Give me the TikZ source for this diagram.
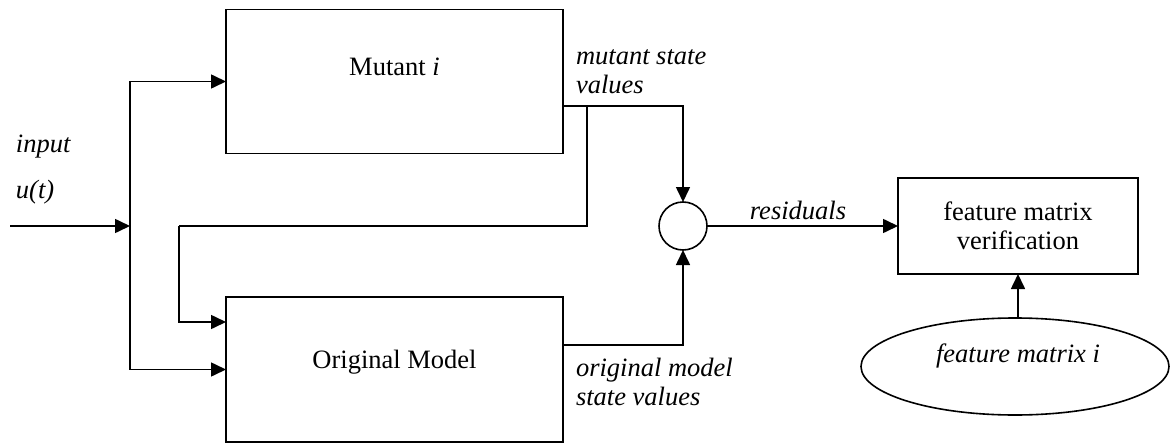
\documentclass[tikz,border=0pt]{standalone}
\usepackage{fontspec}
\setmainfont{Liberation Serif}
\usetikzlibrary{arrows.meta,shapes.geometric}
\begin{document}
\begin{tikzpicture}[x=1pt,y=-1pt, line width=1.6pt,
  every node/.style={font=\fontsize{26.5}{29}\selectfont, inner sep=0pt, outer sep=0pt},
  itext/.style={font=\fontsize{26.5}{29}\selectfont\itshape},
  block/.style={draw, rectangle, line width=1.6pt},
  arr/.style={-{Triangle[length=15pt,width=14pt]}},
  lbl/.style={anchor=base west, align=left, itext}]
\useasboundingbox (0,0) rectangle (1170,444);
% blocks
\node[block, minimum width=337pt, minimum height=144pt] (mut) at (394.5,81.5) {};
\node[block, minimum width=337pt, minimum height=145pt] (orig) at (394.5,369.5) {};
\node[block, minimum width=240pt, minimum height=96pt, align=center] (fb) at (1018,226) {feature matrix\\verification};
\node[draw, circle, minimum size=48pt] (sum) at (683,226) {};
\node[draw, ellipse, minimum width=308pt, minimum height=97pt] (ell) at (1015,366.5) {};
% texts
\node[anchor=base] (mt) at (394.5,76) {Mutant \textit{i}};
\node[anchor=base] (ot) at (394.5,368) {Original Model};
\node[anchor=base, itext] (ft) at (1018,362) {feature matrix i};
\node[lbl] (ms) at (576,93) {mutant state\\values};
\node[lbl] (os) at (576,405) {original model\\state values};
\node[anchor=base, itext] (res) at (798,219) {residuals};
\node[lbl] (inp) at (16,152) {input};
\node[lbl] (ut) at (16,198) {u(t)};
% coordinates
\coordinate (in) at (10,226);
\coordinate (j) at (130,226);
\coordinate (mo) at (563,106);
\coordinate (br) at (587,106);
\coordinate (fb1) at (179,226);
\coordinate (oin) at (226,322);
\coordinate (oo) at (563,345);
% connectors
\draw[arr] (in) -- (j);
\draw[arr] (j) |- (mut.west);
\draw[arr] (j) |- (orig.west);
\draw[arr] (mo) -| (sum.north);
\draw (br) |- (fb1);
\draw[arr] (fb1) |- (oin);
\draw[arr] (oo) -| (sum.south);
\draw[arr] (sum.east) -- (fb.west);
\draw[arr] (fb.south |- ell.north) -- (fb.south);
\end{tikzpicture}
\end{document}
